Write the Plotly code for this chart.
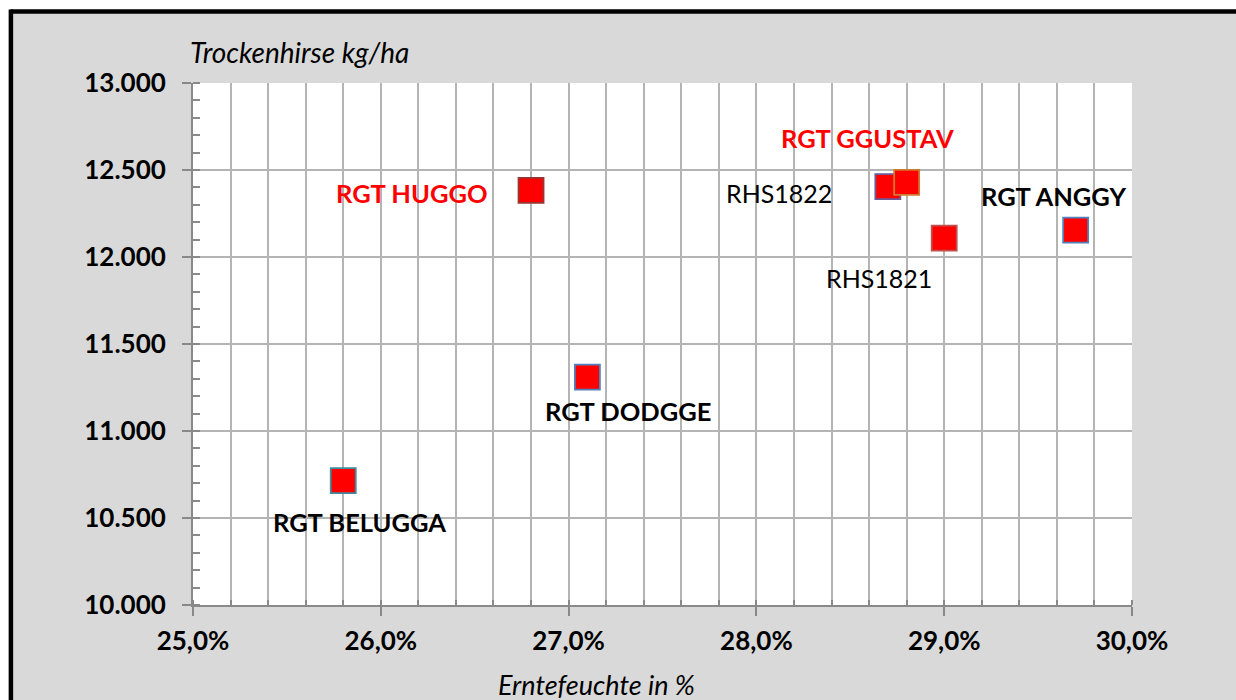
import plotly.graph_objects as go

# ---- data ----
sorten = ["RGT BELUGGA", "RGT HUGGO", "RGT DODGGE", "RHS1822", "RGT GGUSTAV", "RHS1821", "RGT ANGGY"]
erntefeuchte = [25.8, 26.8, 27.1, 28.7, 28.8, 29.0, 29.7]          # %
ertrag = [10715, 12383, 11310, 12404, 12429, 12109, 12155]          # kg/ha

x_ticks = [25, 26, 27, 28, 29, 30]
x_tick_labels = ["25,0%", "26,0%", "27,0%", "28,0%", "29,0%", "30,0%"]
y_ticks = [10000, 10500, 11000, 11500, 12000, 12500, 13000]

# ---- styles ----
outline_colors = ["#3f8c9c", "#953735", "#4f81bd", "#6a5a98", "#d07a30", "#c0504d", "#4f81bd"]
label_style = {
    "RGT BELUGGA": dict(color="black", bold=True, xanchor="center", xshift=16, yshift=-41),
    "RGT HUGGO": dict(color="#ff0000", bold=True, xanchor="right", xshift=-41, yshift=-3),
    "RGT DODGGE": dict(color="black", bold=True, xanchor="center", xshift=41, yshift=-34),
    "RHS1822": dict(color="black", bold=False, xanchor="right", xshift=-54, yshift=-6),
    "RGT GGUSTAV": dict(color="#ff0000", bold=True, xanchor="center", xshift=-39, yshift=44),
    "RHS1821": dict(color="black", bold=False, xanchor="center", xshift=-65, yshift=-40),
    "RGT ANGGY": dict(color="black", bold=True, xanchor="center", xshift=-22, yshift=34),
}

FONT = "Lato"
W, H = 1236, 700
L, T = 192.5, 83
pw, ph = 939.5, 522
R = W - L - pw
B = H - T - ph


def px_x(page_x):
    return (page_x - L) / pw


def px_y(page_y):
    return (T + ph - page_y) / ph


fig = go.Figure()
fig.add_trace(go.Scatter(
    x=erntefeuchte, y=ertrag, mode="markers", text=sorten,
    marker=dict(symbol="square", size=25, color="#ff0000",
                line=dict(color=outline_colors, width=1.8)),
    showlegend=False, hoverinfo="text+x+y",
))

annotations = []
for name, xv, yv in zip(sorten, erntefeuchte, ertrag):
    st = label_style[name]
    txt = f"<b>{name}</b>" if st["bold"] else name
    annotations.append(dict(
        x=xv, y=yv, xref="x", yref="y", text=txt, showarrow=False,
        xanchor=st["xanchor"], yanchor="middle",
        xshift=st["xshift"], yshift=st["yshift"],
        font=dict(family=FONT, size=25.5 if st["bold"] else 25, color=st["color"]),
    ))

# axis titles
annotations.append(dict(
    x=px_x(187), y=px_y(52), xref="paper", yref="paper",
    text="<i>Trockenhirse kg/ha</i>", showarrow=False, xanchor="left", yanchor="middle",
    font=dict(family=FONT, size=28, color="black"),
))
annotations.append(dict(
    x=px_x(596), y=px_y(684), xref="paper", yref="paper",
    text="<i>Erntefeuchte in %</i>", showarrow=False, xanchor="center", yanchor="middle",
    font=dict(family=FONT, size=27, color="black"),
))

# gray chart area with black border (only left/top visible), then white plot area
shapes = [
    dict(type="rect", xref="paper", yref="paper", layer="below",
         x0=px_x(10), x1=px_x(1600), y0=px_y(1000), y1=px_y(11.5),
         fillcolor="#d9d9d9", line=dict(width=0)),
    dict(type="line", xref="paper", yref="paper", layer="below",
         x0=px_x(10), x1=px_x(1600), y0=px_y(11.5), y1=px_y(11.5),
         line=dict(color="black", width=4.5)),
    dict(type="line", xref="paper", yref="paper", layer="below",
         x0=px_x(10.3), x1=px_x(10.3), y0=px_y(9.5), y1=px_y(1000),
         line=dict(color="black", width=4.5)),
    dict(type="rect", xref="paper", yref="paper", layer="below",
         x0=0, x1=1, y0=0, y1=1, fillcolor="white", line=dict(width=0)),
]

grid_c = "#b4b4b4"
axis_c = "#898989"

fig.update_layout(
    width=W, height=H,
    margin=dict(l=L, r=R, t=T, b=B),
    paper_bgcolor="white", plot_bgcolor="white",
    separators=",.",
    font=dict(family=FONT, color="black"),
    annotations=annotations, shapes=shapes,
    xaxis=dict(
        range=[25, 30], tickvals=x_ticks, ticktext=x_tick_labels,
        showgrid=True, gridcolor=grid_c, gridwidth=1.8,
        showline=True, linecolor=axis_c, linewidth=2,
        ticks="outside", ticklen=9, tickwidth=1.5, tickcolor=axis_c,
        tickfont=dict(family=FONT, size=26, color="black", weight="bold"),
        ticklabelstandoff=3,
        minor=dict(dtick=0.2, showgrid=True, gridcolor=grid_c, gridwidth=1.8,
                   ticks="inside", ticklen=5, tickcolor=axis_c, tickwidth=1.5),
        zeroline=False, fixedrange=True,
    ),
    yaxis=dict(
        range=[10000, 13000], tickvals=y_ticks, tickformat=",.0f",
        showgrid=True, gridcolor=grid_c, gridwidth=1.8,
        showline=True, linecolor=axis_c, linewidth=2,
        ticks="outside", ticklen=9, tickwidth=1.5, tickcolor=axis_c,
        tickfont=dict(family=FONT, size=26, color="black", weight="bold"),
        ticklabelstandoff=11,
        minor=dict(dtick=100, showgrid=False, ticks="inside", ticklen=7,
                   tickcolor=axis_c, tickwidth=1.5),
        zeroline=False, fixedrange=True,
    ),
)

fig.write_html(
    "out.html",
    config={"displayModeBar": False},
    post_script="document.body.style.margin='0';document.body.style.overflow='hidden';",
)
